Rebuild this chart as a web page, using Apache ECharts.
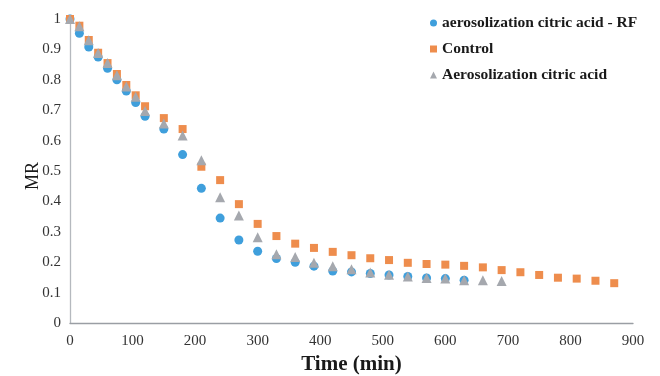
<!DOCTYPE html>
<html>
<head>
<meta charset="utf-8">
<script src="https://cdn.jsdelivr.net/npm/echarts@6/dist/echarts.min.js"></script>
<style>html,body{margin:0;padding:0;background:#fff}#c{width:660px;height:376px}</style>
</head>
<body>
<div id="c"></div>
<script>
var times = [0,15,30,45,60,75,90,105,120,150,180,210,240,270,300,330,360,390,420,450,480,510,540,570,600,630,660,690,720,750,780,810,840,870];
var rfValues = [1.0,0.953,0.908,0.875,0.838,0.800,0.763,0.725,0.680,0.638,0.554,0.443,0.345,0.273,0.236,0.212,0.200,0.187,0.171,0.168,0.163,0.158,0.153,0.148,0.146,0.141];
var controlValues = [1.0,0.978,0.931,0.889,0.855,0.819,0.783,0.749,0.713,0.674,0.638,0.514,0.470,0.391,0.326,0.286,0.261,0.247,0.234,0.223,0.213,0.207,0.198,0.194,0.192,0.188,0.183,0.174,0.167,0.158,0.149,0.146,0.139,0.131];
var aeroValues = [1.0,0.976,0.930,0.888,0.855,0.815,0.778,0.744,0.697,0.656,0.617,0.535,0.414,0.354,0.282,0.226,0.217,0.198,0.187,0.177,0.166,0.159,0.153,0.148,0.146,0.141,0.141,0.138];
var seriesNames = ['aerosolization citric acid - RF','Control','Aerosolization citric acid'];
var yAxisTitle = 'MR';
var xAxisTitle = 'Time (min)';

function pairs(vals){ return vals.map(function(v,i){ return [times[i], v]; }); }

var serif = '"Liberation Serif","Times New Roman",serif';
var chart = echarts.init(document.getElementById('c'), null, {renderer:'canvas'});
chart.setOption({
  animation:false,
  backgroundColor:'#fff',
  grid:{left:70,right:27,top:19,bottom:53,containLabel:false,outerBoundsMode:'none'},
  graphic:[{
    type:'text', x:33, y:176, rotation:Math.PI/2,
    style:{text:yAxisTitle, fontFamily:serif, fontSize:18, fill:'#1a1a1a', textAlign:'center', textVerticalAlign:'middle'}
  }],
  legend:{
    orient:'vertical', left:425, top:9, itemGap:8,
    itemWidth:7, itemHeight:7,
    textStyle:{fontFamily:serif,fontWeight:'bold',fontSize:15.5,color:'#1a1a1a',lineHeight:18},
    data:[{name:seriesNames[0],icon:'circle'},{name:seriesNames[1],icon:'rect'},{name:seriesNames[2],icon:'triangle'}]
  },
  xAxis:{
    type:'value',min:0,max:900,interval:100,
    name:xAxisTitle,nameLocation:'middle',nameGap:30,
    nameTextStyle:{fontFamily:serif,fontWeight:'bold',fontSize:21,color:'#1a1a1a'},
    axisLine:{show:true,lineStyle:{color:'#9a9ea4',width:1.3}},
    axisTick:{show:false},splitLine:{show:false},
    axisLabel:{fontFamily:serif,fontSize:15,color:'#333',margin:11}
  },
  yAxis:{
    type:'value',min:0,max:1,interval:0.1,
    axisLine:{show:true,lineStyle:{color:'#b5b9be',width:1.3}},
    axisTick:{show:false},splitLine:{show:false},
    axisLabel:{fontFamily:serif,fontSize:15,color:'#333',margin:9}
  },
  series:[
    {name:seriesNames[0],type:'scatter',symbol:'circle',symbolSize:9,itemStyle:{color:'#3f9fdc',opacity:1},data:pairs(rfValues)},
    {name:seriesNames[1],type:'scatter',symbol:'rect',symbolSize:8,itemStyle:{color:'#ee8d4d',opacity:1},data:pairs(controlValues)},
    {name:seriesNames[2],type:'scatter',symbol:'triangle',symbolSize:10,itemStyle:{color:'#a5a8ae',opacity:1},data:pairs(aeroValues)}
  ]
});
</script>
</body>
</html>
